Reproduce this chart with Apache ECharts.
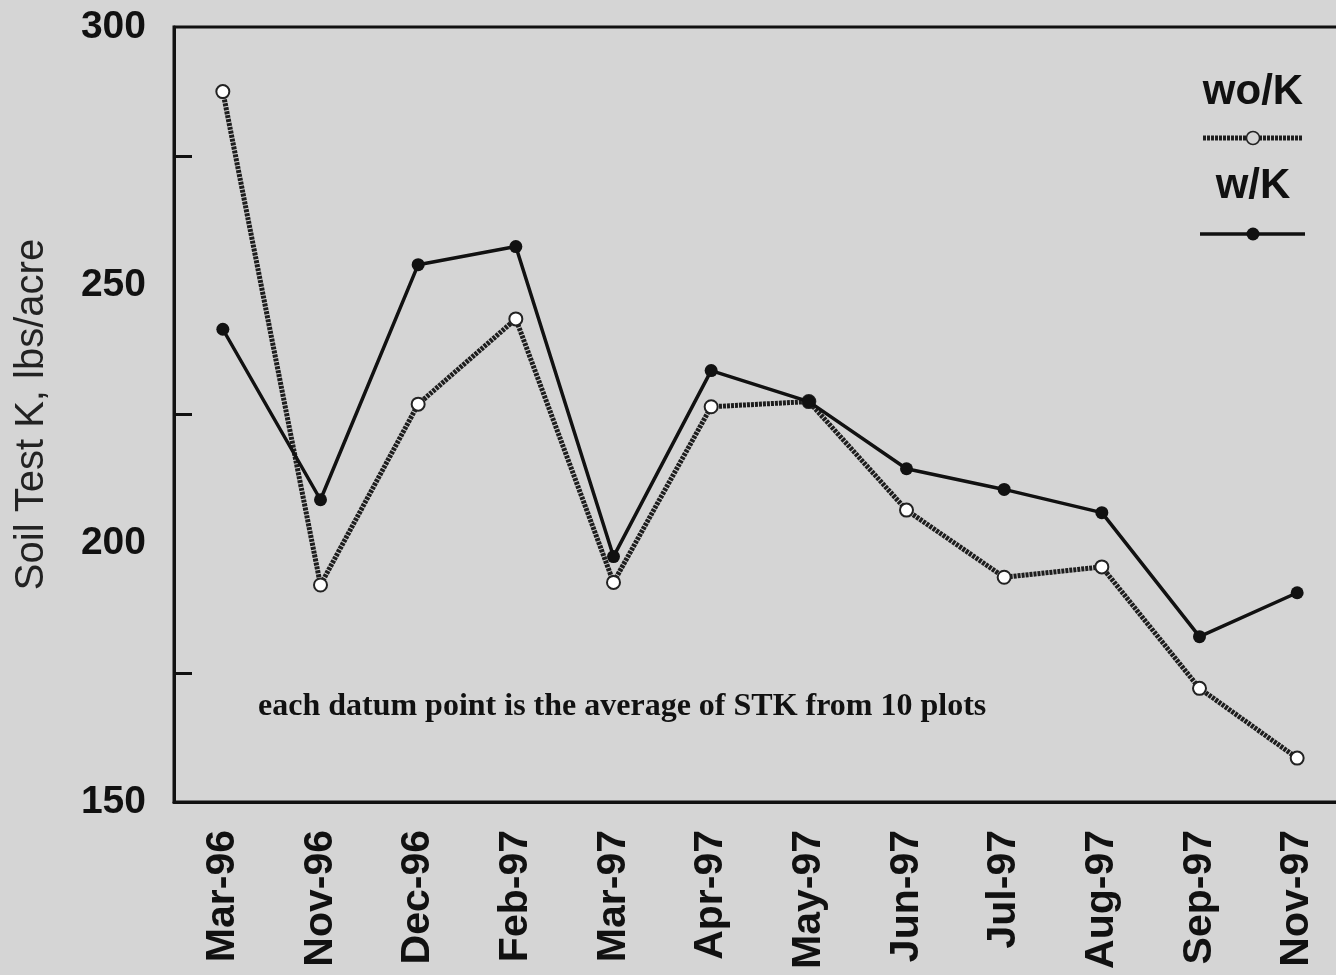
<!DOCTYPE html>
<html>
<head>
<meta charset="utf-8">
<script src="https://cdn.jsdelivr.net/npm/echarts@6/dist/echarts.min.js"></script>
<style>
  html, body { margin: 0; padding: 0; background: #d5d5d5; }
  #chart { width: 1336px; height: 975px; }
</style>
</head>
<body>
<div id="chart"></div>
<script>
var dates = ['Mar-96', 'Nov-96', 'Dec-96', 'Feb-97', 'Mar-97', 'Apr-97', 'May-97', 'Jun-97', 'Jul-97', 'Aug-97', 'Sep-97', 'Nov-97'];
var woK = [287.5, 192, 227, 243.5, 192.5, 226.5, 227.5, 206.5, 193.5, 195.5, 172, 158.5];
var wK = [241.5, 208.5, 254, 257.5, 197.5, 233.5, 227.5, 214.5, 210.5, 206, 182, 190.5];
var yTicks = [150, 200, 250, 300];

var myChart = echarts.init(document.getElementById('chart'));
var font = 'Liberation Sans, Arial, sans-serif';

myChart.setOption({
    backgroundColor: '#d5d5d5',
    animation: false,
    grid: {
        left: 174, top: 27, width: 1172, height: 775,
        outerBoundsMode: 'none',
        show: true, borderColor: '#111', borderWidth: 3
    },
    xAxis: {
        type: 'category',
        data: dates,
        boundaryGap: true,
        axisLine: { lineStyle: { color: '#111', width: 3 } },
        axisTick: { inside: true, alignWithLabel: true, length: 20, lineStyle: { color: '#111', width: 2 } },
        axisLabel: {
            rotate: 90, margin: 28, color: '#111',
            fontFamily: font, fontWeight: 'bold', fontSize: 41
        }
    },
    yAxis: {
        type: 'value',
        min: yTicks[0], max: yTicks[yTicks.length - 1], interval: 50,
        name: 'Soil Test K, lbs/acre',
        nameLocation: 'middle', nameGap: 122,
        nameTextStyle: { fontFamily: font, fontSize: 40, color: '#222' },
        splitLine: { show: false },
        axisLine: { show: true, lineStyle: { color: '#111', width: 3 } },
        axisTick: { inside: true, length: 20, lineStyle: { color: '#111', width: 3 } },
        minorTick: { show: true, splitNumber: 2, length: 18, lineStyle: { color: '#111', width: 3 } },
        axisLabel: {
            margin: 28, color: '#111',
            fontFamily: font, fontWeight: 'bold', fontSize: 39
        }
    },
    series: [
        {
            name: 'wo/K',
            type: 'line',
            data: woK,
            symbol: 'emptyCircle',
            symbolSize: 13,
            lineStyle: { color: '#1e1e1e', width: 5, type: [3, 1] },
            itemStyle: { color: '#222', borderWidth: 1.5 },
            z: 2
        },
        {
            name: 'w/K',
            type: 'line',
            data: wK,
            symbol: 'circle',
            symbolSize: 13,
            lineStyle: { color: '#111', width: 3.5 },
            itemStyle: { color: '#111' },
            z: 3
        }
    ],
    graphic: [
        {
            type: 'text', left: 258, top: 691,
            style: { text: 'each datum point is the average of STK from 10 plots', fill: '#111',
                font: 'bold 32px "Liberation Serif", "Times New Roman", serif' }
        },
        {
            type: 'text', x: 1253, y: 92,
            style: { text: 'wo/K', fill: '#111', align: 'center', verticalAlign: 'middle',
                font: 'bold 42px "Liberation Sans", Arial, sans-serif' }
        },
        {
            type: 'line', shape: { x1: 1203, y1: 138, x2: 1302, y2: 138 },
            style: { stroke: '#1e1e1e', lineWidth: 5, lineDash: [3, 1] }
        },
        {
            type: 'circle', shape: { cx: 1253, cy: 138, r: 6.5 },
            style: { fill: '#d5d5d5', stroke: '#222', lineWidth: 1.5 }
        },
        {
            type: 'text', x: 1253, y: 186,
            style: { text: 'w/K', fill: '#111', align: 'center', verticalAlign: 'middle',
                font: 'bold 42px "Liberation Sans", Arial, sans-serif' }
        },
        {
            type: 'line', shape: { x1: 1200, y1: 234, x2: 1305, y2: 234 },
            style: { stroke: '#111', lineWidth: 3.5 }
        },
        {
            type: 'circle', shape: { cx: 1253, cy: 234, r: 6.5 },
            style: { fill: '#111' }
        }
    ]
});
</script>
</body>
</html>
